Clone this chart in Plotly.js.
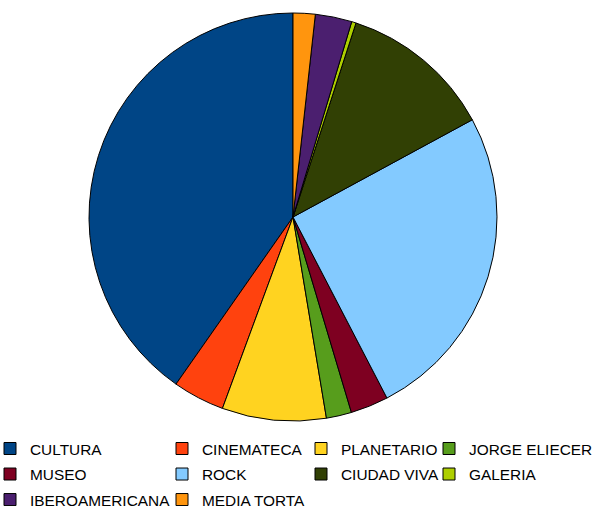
<!DOCTYPE html>
<html>
<head>
<meta charset="utf-8">
<script src="https://cdn.plot.ly/plotly-3.0.1.min.js"></script>
<style>html,body{margin:0;padding:0;background:#fff;}#chart{width:595px;height:506px;}</style>
</head>
<body>
<div id="chart"></div>
<script>
// Data (share of each venue, in %)
var labels = ["CULTURA", "CINEMATECA", "PLANETARIO", "JORGE ELIECER", "MUSEO", "ROCK", "CIUDAD VIVA", "GALERIA", "IBEROAMERICANA", "MEDIA TORTA"];
var values = [40.3, 4.1, 8.25, 2.0, 3.0, 25.3, 12.1, 0.35, 2.9, 1.75];
var colors = ["#004586", "#ff420e", "#ffd320", "#579d1c", "#7e0021", "#83caff", "#314004", "#aecf00", "#4b1f6f", "#ff950e"];

// Legend laid out in 4 columns, row-major like the reference
var legendColumns = ["legend", "legend2", "legend3", "legend4"];
var colTextX = [30, 202, 341, 469];

var W = 595, H = 506;
var cx = 293, cy = 217, R = 204;

var total = values.reduce(function (a, b) { return a + b; }, 0);

var traces = [{
  type: "pie",
  labels: labels,
  values: values,
  sort: false,
  direction: "counterclockwise",
  // Plotly puts the first slice clockwise of 'rotation' when counterclockwise; shift so it starts at 12 o'clock
  rotation: -360 * values[0] / total,
  textinfo: "none",
  hoverinfo: "label+value+percent",
  showlegend: false,
  marker: {colors: colors, line: {color: "#000000", width: 1}},
  domain: {x: [(cx - R) / W, (cx + R) / W], y: [1 - (cy + R) / H, 1 - (cy - R) / H]}
}];

labels.forEach(function (lab, i) {
  traces.push({
    type: "scatter",
    mode: "markers",
    x: [null], y: [null],
    name: lab,
    legend: legendColumns[i % 4],
    legendgroup: "g" + i,
    hoverinfo: "skip",
    marker: {symbol: "square", size: 12, color: colors[i], line: {color: "#000000", width: 1}}
  });
});

var legendFont = {family: "Liberation Sans, Arial, sans-serif", size: 15.4, color: "#000000"};

var layout = {
  width: W, height: H,
  margin: {l: 0, r: 0, t: 0, b: 0, autoexpand: false},
  paper_bgcolor: "#ffffff",
  plot_bgcolor: "rgba(0,0,0,0)",
  xaxis: {visible: false, range: [0, 1], fixedrange: true},
  yaxis: {visible: false, range: [0, 1], fixedrange: true},
  font: legendFont
};
legendColumns.forEach(function (key, c) {
  layout[key] = {
    x: (colTextX[c] - 40) / W, xanchor: "left",
    y: 1 - 432 / H, yanchor: "top",
    orientation: "v",
    bgcolor: "rgba(0,0,0,0)",
    borderwidth: 0,
    tracegroupgap: 2.5,
    font: legendFont
  };
});

Plotly.newPlot("chart", traces, layout, {displayModeBar: false});
</script>
</body>
</html>
